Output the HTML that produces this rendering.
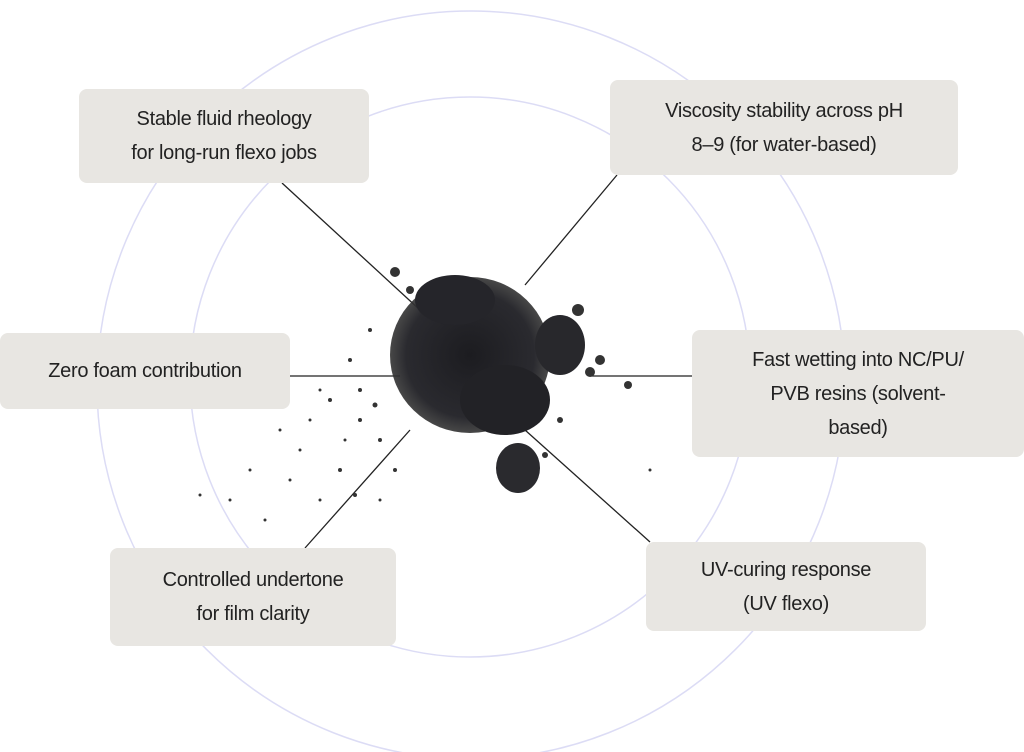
<!DOCTYPE html>
<html><head><style>
body{margin:0;width:1024px;height:752px;background:#fff;position:relative;overflow:hidden;font-family:"Liberation Sans",sans-serif}
.b{position:absolute;background:#e8e6e2;border-radius:8px;display:flex;align-items:center;justify-content:center;text-align:center;font-size:20px;line-height:34px;color:#222;letter-spacing:-0.3px}
svg{position:absolute;left:0;top:0}
</style></head><body>
<svg width="1024" height="752">
<circle cx="471" cy="385" r="374" fill="none" stroke="#dcdcf5" stroke-width="1.5"/>
<circle cx="470" cy="377" r="280" fill="none" stroke="#dcdcf5" stroke-width="1.5"/>
<g stroke="#222" stroke-width="1.3">
<line x1="282" y1="183" x2="420" y2="310"/>
<line x1="617" y1="175" x2="525" y2="285"/>
<line x1="290" y1="376" x2="400" y2="376"/>
<line x1="590" y1="376" x2="692" y2="376"/>
<line x1="525" y1="430" x2="650" y2="542"/>
<line x1="305" y1="548" x2="410" y2="430"/>
</g>
<defs><radialGradient id="g"><stop offset="0" stop-color="#1c1c20"/><stop offset="0.8" stop-color="#2a2a2f"/><stop offset="1" stop-color="#333" stop-opacity="0.9"/></radialGradient></defs>
<ellipse cx="470" cy="355" rx="80" ry="78" fill="url(#g)"/>
<ellipse cx="455" cy="300" rx="40" ry="25" fill="#25252a"/>
<ellipse cx="505" cy="400" rx="45" ry="35" fill="#222226"/>
<ellipse cx="560" cy="345" rx="25" ry="30" fill="#28282c"/>
<ellipse cx="518" cy="468" rx="22" ry="25" fill="#2a2a2e"/>
<g fill="#333">
<circle cx="395" cy="272" r="5"/><circle cx="600" cy="360" r="5"/><circle cx="628" cy="385" r="4"/><circle cx="578" cy="310" r="6"/><circle cx="410" cy="290" r="4"/><circle cx="590" cy="372" r="5"/>
<circle cx="370" cy="330" r="2"/><circle cx="350" cy="360" r="2"/><circle cx="330" cy="400" r="2"/><circle cx="360" cy="420" r="2"/><circle cx="300" cy="450" r="1.5"/><circle cx="340" cy="470" r="2"/><circle cx="380" cy="440" r="2"/><circle cx="320" cy="500" r="1.5"/><circle cx="280" cy="430" r="1.5"/><circle cx="250" cy="470" r="1.5"/><circle cx="230" cy="500" r="1.5"/><circle cx="360" cy="390" r="2"/><circle cx="375" cy="405" r="2.5"/><circle cx="345" cy="440" r="1.5"/><circle cx="310" cy="420" r="1.5"/><circle cx="265" cy="520" r="1.5"/><circle cx="395" cy="470" r="2"/><circle cx="380" cy="500" r="1.5"/><circle cx="200" cy="495" r="1.5"/><circle cx="290" cy="480" r="1.5"/><circle cx="355" cy="495" r="2"/><circle cx="320" cy="390" r="1.5"/><circle cx="545" cy="455" r="3"/><circle cx="560" cy="420" r="3"/><circle cx="650" cy="470" r="1.5"/>
</g>
</svg>
<div class="b" style="left:79px;top:89px;width:290px;height:94px">Stable fluid rheology<br>for long-run flexo jobs</div>
<div class="b" style="left:610px;top:80px;width:348px;height:95px">Viscosity stability across pH<br>8–9 (for water-based)</div>
<div class="b" style="left:0;top:333px;width:290px;height:76px">Zero foam contribution</div>
<div class="b" style="left:692px;top:330px;width:332px;height:127px">Fast wetting into NC/PU/<br>PVB resins (solvent-<br>based)</div>
<div class="b" style="left:110px;top:548px;width:286px;height:98px">Controlled undertone<br>for film clarity</div>
<div class="b" style="left:646px;top:542px;width:280px;height:89px">UV-curing response<br>(UV flexo)</div>
</body></html>
